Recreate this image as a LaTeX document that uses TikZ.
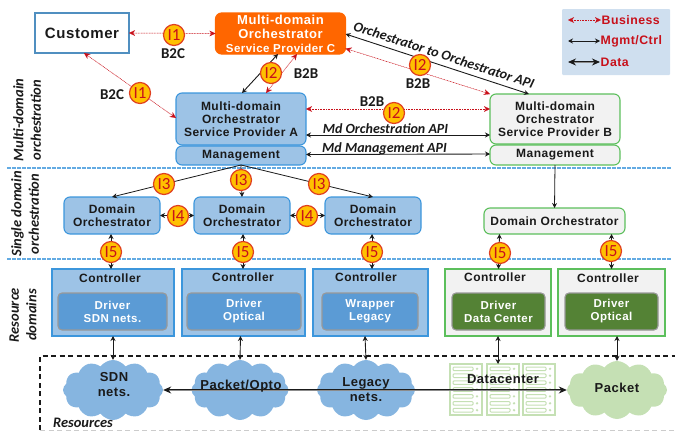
\documentclass[tikz,border=0pt]{standalone}
\usepackage{fontspec}
\usetikzlibrary{arrows.meta,shapes.symbols,calc}
\setmainfont{Liberation Sans}[LetterSpace=4]
\newfontfamily\cfam{Carlito}
\newcommand{\lsz}[2]{\fontsize{#1}{#2}\selectfont\bfseries}
\definecolor{bfill}{HTML}{9DC3E6}
\definecolor{bline}{HTML}{3C96DC}
\definecolor{gline}{HTML}{5CBF5C}
\definecolor{gfill}{HTML}{F2F2F2}
\definecolor{dblue}{HTML}{5B9BD5}
\definecolor{dgreen}{HTML}{548235}
\definecolor{redt}{HTML}{C8101A}
\definecolor{rack}{HTML}{C5E0B4}
\definecolor{legfill}{HTML}{CFDFEF}
\definecolor{badgeline}{HTML}{E04020}
\definecolor{badgefill}{HTML}{FFC000}
\definecolor{orfill}{HTML}{FF6600}
\definecolor{gcloud}{HTML}{C5E0B4}
\definecolor{bcloud}{HTML}{86B5E0}
\definecolor{ink}{HTML}{1A1A1A}
\tikzset{
 x=1pt,y=-1pt,
 box/.style={draw,line width=1.1pt,inner sep=0pt,outer sep=0pt,align=center,text=ink,font=\lsz{12}{13}},
 bluebox/.style={box,draw=bline,fill=bfill,rounded corners=6pt},
 greenbox/.style={box,draw=gline,fill=gfill,rounded corners=6pt},
 bluectl/.style={box,draw=bline,fill=bfill},
 greenctl/.style={box,draw=gline,fill=gfill},
 drv/.style={box,text=white,draw=gray!80,rounded corners=4pt,font=\lsz{11.5}{13}},
 bluedrv/.style={drv,fill=dblue},
 greendrv/.style={drv,fill=dgreen},
 ctltxt/.style={inner sep=0pt,text=ink,font=\lsz{12}{13}},
 badge/.style={circle,draw=badgeline,line width=1.2pt,fill=badgefill,minimum size=21pt,inner sep=0pt,text=redt,font=\cfam\fontsize{17}{17}\selectfont},
 bizlink/.style={{Stealth[length=6pt,width=5.5pt,sep=0pt,fill=redt,line width=.01pt]}-{Stealth[length=6pt,width=5.5pt,sep=0pt,fill=redt,line width=.01pt]},draw=redt!80,color=redt,line width=.5pt,dash pattern=on 1pt off .6pt},
 ctl/.style={{Stealth[length=5pt,width=5pt]}-{Stealth[length=5pt,width=5pt]},draw=ink,line width=.9pt},
 ctlone/.style={-{Stealth[length=5pt,width=5pt]},draw=ink,line width=.8pt},
 datal/.style={{Stealth[length=8pt,width=7pt]}-{Stealth[length=8pt,width=7pt]},draw=ink,double=ink!50,double distance=.9pt,line width=1pt},
 lab/.style={inner sep=0pt,text=ink,font=\cfam\fontsize{15}{15}\selectfont\bfseries},
 api/.style={inner sep=0pt,text=ink,font=\cfam\fontsize{14}{14}\selectfont\bfseries\itshape},
 side/.style={inner sep=0pt,rotate=90,align=center,text=ink,font=\cfam\fontsize{14.5}{17.5}\selectfont\bfseries\itshape},
 cloudb/.style={cloud,cloud puffs=12,cloud puff arc=110,aspect=1.7,inner sep=0pt,draw=none},
 cloudt/.style={inner sep=0pt,align=center,text=ink,font=\lsz{13}{15}},
 legtxt/.style={inner sep=0pt,anchor=west,text=redt,font=\fontsize{12.3}{13}\selectfont\bfseries},
 sep/.style={draw=bline!80,line width=1.2pt,dash pattern=on 3.5pt off 1.5pt},
}
\newcommand{\rackat}[1]{%
 \draw[rack,line width=1.2pt,fill=white] (#1,364) rectangle ++(32,51);
 \foreach \r in {0,...,6}{
  \draw[rack,line width=1pt,rounded corners=1pt] (#1+3,367+\r*6.9) rectangle ++(20,3.6);
  \fill[rack] (#1+27,368.8+\r*6.9) circle (1.3pt);
 }}
\begin{document}
\begin{tikzpicture}
\useasboundingbox (0,0) rectangle (675,431);
% separators and frame
\coordinate (s1a) at (7,168); \coordinate (s1b) at (672,168);
\coordinate (s2a) at (7,259); \coordinate (s2b) at (672,259);
\draw[sep] (s1a) -- (s1b);
\draw[sep] (s2a) -- (s2b);
\draw[ink,line width=1.3pt,dash pattern=on 5pt off 3.5pt] (40,430) -- (40,356) -- (675,356);
\draw[gray!40,line width=.8pt,dash pattern=on 5pt off 3.5pt] (40,430.4) -- (675,430.4);
% legend
\fill[legfill,rounded corners=1pt] (562,9) rectangle (670,75);
\coordinate (l1a) at (568,20); \coordinate (l1b) at (601,20);
\coordinate (l2a) at (568,41); \coordinate (l2b) at (600,41);
\coordinate (l3a) at (568,62); \coordinate (l3b) at (600,62);
\draw[bizlink] (l1a) -- (l1b);
\draw[ctl] (l2a) -- (l2b);
\draw[datal] (l3a) -- (l3b);
\node[legtxt] (lg1) at (601.5,20) {Business};
\node[legtxt] (lg2) at (600.5,41) {Mgmt/Ctrl};
\node[legtxt] (lg3) at (600.5,62) {Data};
% top boxes
\node[box,draw=bline!70!gray,fill=white,minimum width=94pt,minimum height=40pt,font=\lsz{15}{16}] (cust) at (82,33) {Customer};
\node[box,draw=orfill,fill=orfill,rounded corners=6pt,text=white,minimum width=130pt,minimum height=41pt,font=\lsz{13}{14.5}] (spc) at (280.5,33.5) {Multi-domain\\Orchestrator\\[-1pt]{\fontsize{11.5}{12}\selectfont Service Provider C}};
\node[bluebox,minimum width=130pt,minimum height=52pt] (spa) at (241,119) {Multi-domain\\Orchestrator\\Service Provider A};
\node[bluebox,minimum width=130pt,minimum height=19pt] (mga) at (241,155.5) {Management};
\node[greenbox,minimum width=130pt,minimum height=50pt] (spb) at (555,119) {Multi-domain\\Orchestrator\\Service Provider B};
\node[greenbox,minimum width=130pt,minimum height=20pt] (mgb) at (555,155) {Management};
% domain orchestrators
\node[bluebox,minimum width=96pt,minimum height=37pt] (do1) at (112,215.5) {Domain\\Orchestrator};
\node[bluebox,minimum width=96pt,minimum height=37pt] (do2) at (242,215.5) {Domain\\Orchestrator};
\node[bluebox,minimum width=96pt,minimum height=37pt] (do3) at (373,215.5) {Domain\\Orchestrator};
\node[greenbox,minimum width=141pt,minimum height=26pt] (do4) at (554.5,221) {Domain Orchestrator};
% controllers
\node[bluectl,minimum width=122pt,minimum height=67pt] (c1) at (113,302.5) {};
\node[bluectl,minimum width=123pt,minimum height=67pt] (c2) at (243.5,302.5) {};
\node[bluectl,minimum width=115pt,minimum height=67pt] (c3) at (370.5,302.5) {};
\node[greenctl,minimum width=106pt,minimum height=67pt] (c4) at (498,302.5) {};
\node[greenctl,minimum width=107pt,minimum height=67pt] (c5) at (611.5,302.5) {};
\node[ctltxt] (t1) at (110,278.5) {Controller};
\node[ctltxt] (t2) at (243,277.5) {Controller};
\node[ctltxt] (t3) at (366,277.5) {Controller};
\node[ctltxt] (t4) at (495,277.5) {Controller};
\node[ctltxt] (t5) at (608,278.5) {Controller};
\node[bluedrv,minimum width=109pt,minimum height=37pt] (d1) at (112.5,311.5) {Driver\\SDN nets.};
\node[bluedrv,minimum width=114pt,minimum height=37pt] (d2) at (244,311.5) {Driver\\Optical};
\node[bluedrv,minimum width=96pt,minimum height=37pt] (d3) at (370,311.5) {Wrapper\\Legacy};
\node[greendrv,minimum width=93pt,minimum height=37pt] (d4) at (498.5,311.5) {Driver\\Data Center};
\node[greendrv,minimum width=93pt,minimum height=37pt] (d5) at (611.5,311.5) {Driver\\Optical};
% resources
\node[cloudb,fill=bcloud,minimum width=100pt,minimum height=60pt] (sdn) at (113,390) {};
\node[cloudb,fill=bcloud,minimum width=97pt,minimum height=60pt] (pko) at (240,390) {};
\node[cloudb,fill=bcloud,minimum width=98pt,minimum height=60pt] (leg) at (366,390) {};
\node[cloudb,fill=gcloud,minimum width=100pt,minimum height=58pt] (pkt) at (617,390) {};
\rackat{450}\rackat{487}\rackat{523}
\coordinate (dctop) at (498,364);
\draw[datal] (sdn.east) -- (pkt.west);
\node[cloudt] (sdnt) at (114,385) {SDN\\nets.};
\node[cloudt] (pkot) at (241,386) {Packet/Opto};
\node[cloudt] (legt) at (366,390) {Legacy\\nets.};
\node[cloudt] (pktt) at (617,388) {Packet};
\node[cloudt] (dct) at (503,379) {Datacenter};
\node[inner sep=0pt,text=ink,font=\cfam\fontsize{14.5}{15}\selectfont\bfseries\itshape] (rest) at (83,422.5) {Resources};
% connectors
\draw[bizlink] (cust.east) -- (spc.west);
\draw[bizlink] ([xshift=2pt]cust.south) -- ([yshift=1pt]spa.west);
\draw[ctl] ([xshift=-2.5pt]spc.south) -- ([xshift=1pt]spa.north);
\draw[bizlink] ([xshift=16.5pt]spc.south) -- ([xshift=25pt]spa.north);
\draw[ctl] ([yshift=-.5pt]spc.east) -- ([xshift=-26pt]spb.north);
\draw[bizlink] ([yshift=-15pt]spc.east) -- ([yshift=25pt]spb.west);
\draw[bizlink] ([yshift=10pt]spa.east) -- ([yshift=10pt]spb.west);
\draw[ctl] ([yshift=-16pt]spa.east) -- ([yshift=-16pt]spb.west);
\draw[ctl] ([yshift=1pt]mga.east) -- ([yshift=1pt]mgb.west);
\draw[ctlone] (mga.south) -- (do1.north);
\draw[ctlone] (mga.south) -- (do2.north);
\draw[ctlone] (mga.south) -- (do3.north);
\draw[ctlone] (mgb.south) -- (do4.north);
\draw[ctl] (do1.east) -- (do2.west);
\draw[ctl] (do2.east) -- (do3.west);
\draw[ctl] ([xshift=-1pt]do1.south) -- ([xshift=-2pt]c1.north);
\draw[ctl] ([xshift=1pt]do2.south) -- ([xshift=-.5pt]c2.north);
\draw[ctl] ([xshift=-1pt]do3.south) -- ([xshift=1.5pt]c3.north);
\draw[ctl] ([xshift=-55pt]do4.south) -- ([xshift=.5pt]c4.north);
\draw[ctl] ([xshift=57pt]do4.south) -- (c5.north);
\draw[ctl] (c1.south) -- (sdn.north);
\draw[ctl] ([xshift=-3pt]c2.south) -- (pko.north);
\draw[ctl] ([xshift=-5.5pt]c3.south) -- (leg.north);
\draw[ctl] (c4.south) -- (dctop);
\draw[ctl] ([xshift=5.5pt]c5.south) -- (pkt.north);
% badges
\node[badge] (b1) at (174,35) {I1};
\node[badge] (b2) at (140,93) {I1};
\node[badge] (b3) at (271,73) {I2};
\node[badge] (b4) at (420,65) {I2};
\node[badge] (b5) at (394,113) {I2};
\node[badge] (b6) at (164,184) {I3};
\node[badge] (b7) at (241,180) {I3};
\node[badge] (b8) at (319,184) {I3};
\node[badge] (b9) at (178,216) {I4};
\node[badge] (b10) at (307,216) {I4};
\node[badge] (b11) at (111,252) {I5};
\node[badge] (b12) at (243,252) {I5};
\node[badge] (b13) at (372,252) {I5};
\node[badge] (b14) at (500,253) {I5};
\node[badge] (b15) at (611,251) {I5};
% labels
\node[lab] (l1) at (173,54) {B2C};
\node[lab] (l2) at (112,95) {B2C};
\node[lab] (l3) at (306,74) {B2B};
\node[lab] (l4) at (418,84) {B2B};
\node[lab] (l5) at (372,102) {B2B};
\node[api] (a1) at (385.5,129) {Md Orchestration API};
\node[api] (a2) at (384.5,149) {Md Management API};
\node[api,rotate=-18] (a3) at (444,55) {Orchestrator to Orchestrator API};
\node[side] (s1) at (27,120) {Multi-domain\\orchestration};
\node[side] (s2) at (25,214) {Single domain\\orchestration};
\node[side] (s3) at (23,315) {Resource\\domains};
\end{tikzpicture}
\end{document}
